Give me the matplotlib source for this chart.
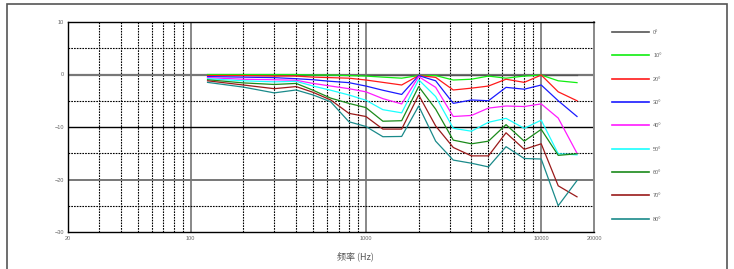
import numpy as np
import matplotlib
matplotlib.use('Agg')
import matplotlib.pyplot as plt
from matplotlib.patches import Rectangle
from matplotlib.lines import Line2D

plt.rcParams['font.family'] = ['Liberation Sans', 'Noto Sans CJK SC', 'DejaVu Sans']

# Frequencies (Hz) of the measured points
freq = [125, 200, 300, 400, 500, 630, 800, 1000, 1250, 1600, 2000,
        2500, 3150, 4000, 5000, 6300, 8000, 10000, 12500, 16000]

# Level relative to on-axis (dB) for each angle
deg0 = [0] * 20
deg10 = [0, 0, 0, 0, -0.1, -0.1, -0.2, -0.3, -0.5, -0.7, -0.2,
         -0.2, -1.05, -0.9, -0.3, -0.7, -0.3, -0.1, -1.2, -1.55]
deg20 = [-0.2, -0.2, -0.3, -0.3, -0.5, -0.6, -0.7, -1.05, -1.5, -2.0, -0.2,
         -0.55, -2.95, -2.6, -2.2, -0.9, -1.5, -0.1, -3.3, -5.0]
deg30 = [-0.4, -0.5, -0.6, -0.8, -1.0, -1.3, -1.55, -2.2, -3.0, -3.8, -0.2,
         -1.2, -5.5, -4.85, -5.0, -2.45, -2.8, -2.0, -5.0, -8.0]
deg40 = [-0.6, -0.9, -1.0, -1.1, -1.7, -2.2, -2.7, -3.3, -4.6, -5.6, -0.4,
         -2.45, -8.0, -7.8, -6.4, -6.0, -6.1, -5.6, -8.3, -15.0]
deg50 = [-0.8, -1.2, -1.4, -1.3, -2.2, -3.0, -3.9, -4.9, -6.7, -7.3, -1.0,
         -4.2, -10.25, -10.8, -9.1, -8.35, -10.25, -8.7, -15.1, -15.3]
deg60 = [-1.0, -1.6, -1.9, -1.7, -3.0, -4.5, -5.5, -6.3, -8.9, -8.8, -2.3,
         -6.6, -12.5, -13.2, -12.7, -9.55, -12.7, -10.45, -15.4, -15.1]
deg70 = [-1.2, -2.0, -2.7, -2.3, -3.4, -4.85, -7.4, -8.0, -10.4, -10.4, -3.9,
         -9.8, -13.9, -15.5, -15.5, -11.1, -14.25, -13.2, -21.2, -23.3]
deg80 = [-1.5, -2.4, -3.5, -2.95, -3.9, -5.2, -9.0, -9.9, -11.85, -11.8, -6.0,
         -12.7, -16.3, -16.9, -17.6, -13.75, -16.0, -16.1, -25.0, -20.2]

series = [deg0, deg10, deg20, deg30, deg40, deg50, deg60, deg70, deg80]
labels = ['0º', '10º', '20º', '30º', '40º', '50º', '60º', '70º', '80º']
colors = ['#555555', '#11ee11', '#ff1a1a', '#1a1aff', '#ff1aff',
          '#1affff', '#1a8a1a', '#9a1a1a', '#1a8a8a']

fig = plt.figure(figsize=(7.34, 2.69), dpi=100)
ax = fig.add_axes([68/734, 1-232/269, 526/734, 210/269])

# figure frame
fig.patches.append(Rectangle((7/734, -0.2), 720/734, 1.2 - 4/269,
                             transform=fig.transFigure, fill=False,
                             edgecolor='#555555', lw=1.2))

ax.set_xscale('log')
ax.set_xlim(20, 20000)
ax.set_ylim(-30, 10)

# grid: minor dotted, decades solid grey
for dec in [10, 100, 1000]:
    for m in range(2, 10):
        f = m * dec
        if 20 < f < 20000:
            ax.axvline(f, color='black', lw=0.8, ls=(0, (1.5, 1)), zorder=1)
for f in [100, 1000, 10000]:
    ax.axvline(f, color='#888888', lw=1.4, zorder=1)
for y in [5, -5, -15, -25]:
    ax.axhline(y, color='black', lw=0.8, ls=(0, (1.5, 1)), zorder=1)
ax.axhline(0, color='#777777', lw=1.6, zorder=1)
ax.axhline(-10, color='black', lw=1.0, zorder=1)
ax.axhline(-20, color='#777777', lw=1.4, zorder=1)

for s, lab, c in zip(series, labels, colors):
    ax.plot(freq, s, color=c, lw=0.9, label=lab, zorder=3)

for sp in ['top', 'left', 'bottom']:
    ax.spines[sp].set_color('black')
    ax.spines[sp].set_linewidth(1.0)
ax.spines['right'].set_color('#888888')
ax.spines['right'].set_linewidth(1.4)

ax.set_xticks([20, 100, 1000, 10000, 20000])
ax.set_xticklabels(['20', '100', '1000', '10000', '20000'])
ax.xaxis.set_minor_locator(matplotlib.ticker.NullLocator())
ax.set_yticks([10, 0, -10, -20, -30])
ax.tick_params(axis='both', length=0, labelsize=4, colors='#666666', pad=3)

ax.set_xlabel('频率 (Hz)', fontsize=6.5, color='#555555',
              family=['Noto Sans CJK SC', 'DejaVu Sans'])
ax.xaxis.set_label_coords((355-68)/526, -0.095)

handles = [Line2D([], [], color=c, lw=1.2) for c in colors]
fig.legend(handles, labels, loc='upper left',
           bbox_to_anchor=(607/734, 1-25/269), frameon=False,
           fontsize=4, labelcolor='#666666', handlelength=6.7,
           handletextpad=0.7, labelspacing=3.3)

fig.savefig('out.png', dpi=100)
